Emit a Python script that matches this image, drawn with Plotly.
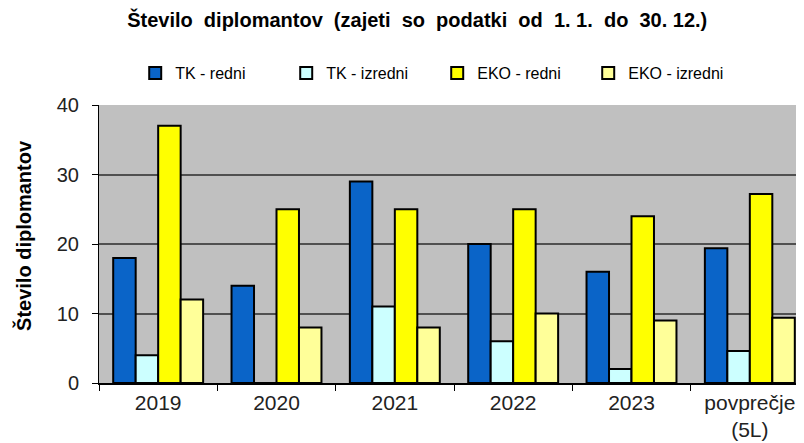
import plotly.graph_objects as go

categories = ["2019", "2020", "2021", "2022", "2023", "povprečje<br>(5L)"]
tk_redni = [18, 14, 29, 20, 16, 19.4]
tk_izredni = [4, 0, 11, 6, 2, 4.6]
eko_redni = [37, 25, 25, 25, 24, 27.2]
eko_izredni = [12, 8, 8, 10, 9, 9.4]

series = [
    ("TK - redni", tk_redni, "#0A64C8"),
    ("TK - izredni", tk_izredni, "#CCFFFF"),
    ("EKO - redni", eko_redni, "#FFFF00"),
    ("EKO - izredni", eko_izredni, "#FFFF99"),
]

fig = go.Figure()
for name, vals, col in series:
    fig.add_trace(go.Bar(
        x=categories, y=vals, name=name,
        marker=dict(color=col, line=dict(color="black", width=2)),
    ))

fig.update_layout(
    width=804, height=443,
    margin=dict(l=91, r=3, t=97, b=68, autoexpand=False),
    paper_bgcolor="white", plot_bgcolor="#C0C0C0",
    barmode="group", bargap=0.24, bargroupgap=0,
    font=dict(family="Liberation Sans, Arial, sans-serif", color="#333333"),
    title=dict(
        text="<b>Število  diplomantov  (zajeti  so  podatki  od  1. 1.  do  30. 12.)</b>",
        x=0.509, xanchor="center", y=0.973, yanchor="middle",
        font=dict(size=20, color="black"),
    ),
    legend=dict(
        orientation="h", x=0.051, xanchor="left", y=1.115, yanchor="middle",
        font=dict(size=16, color="black"), entrywidth=106,
        itemwidth=30, bgcolor="rgba(0,0,0,0)",
    ),
    showlegend=True,
    annotations=[dict(
        text="<b>Število diplomantov</b>", textangle=-90,
        xref="paper", yref="paper", x=-0.1056, y=0.529,
        xanchor="center", yanchor="middle", showarrow=False,
        font=dict(size=20, color="black"),
    )],
)
fig.update_xaxes(
    type="category", tickson="boundaries", ticks="outside", ticklen=6,
    tickcolor="black", showline=True, linecolor="black", linewidth=1.5,
    tickfont=dict(size=21, color="#222222"), showgrid=False,
    range=[-0.5, 5.5], automargin=False,
)
fig.update_yaxes(
    range=[0, 40], dtick=10, ticks="outside", ticklen=6, tickcolor="black",
    showline=True, linecolor="black", linewidth=1,
    showgrid=True, gridcolor="#505050", gridwidth=1.5,
    zeroline=False, automargin=False, ticklabelstandoff=9,
    tickfont=dict(size=20, color="#222222"),
)

fig.write_html("out.html")
